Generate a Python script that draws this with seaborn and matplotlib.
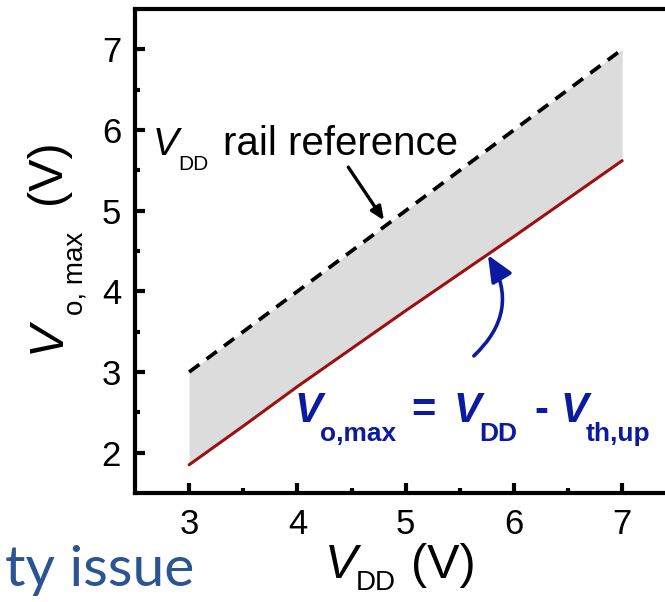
import matplotlib
matplotlib.use("Agg")
import matplotlib.pyplot as plt
from matplotlib.patches import FancyArrowPatch
from matplotlib.transforms import offset_copy
import seaborn as sns

# Supply voltage sweep and resulting levels (V)
vdd = [3.0, 3.5, 4.0, 4.5, 5.0, 5.5, 6.0, 6.5, 7.0]
rail_ref = [3.0, 3.5, 4.0, 4.5, 5.0, 5.5, 6.0, 6.5, 7.0]
vo_max = [1.85, 2.33, 2.82, 3.29, 3.76, 4.22, 4.68, 5.15, 5.62]

x_ticks = [3, 4, 5, 6, 7]
y_ticks = [2, 3, 4, 5, 6, 7]

sns.set_style("ticks")
plt.rcParams["font.family"] = ["Liberation Sans", "DejaVu Sans"]

fig = plt.figure(figsize=(6.65, 6.02), dpi=100)
ax = fig.add_axes([0.203, 0.181, 0.814, 0.804])
renderer = fig.canvas.get_renderer()


def rich_text(x, y, runs, transform, color="black", rotation=0):
    """Lay out (text, size, style, weight, drop_pt, kern_pt) runs along a baseline."""
    adv = 0.0
    for txt, size, style, weight, drop, kern in runs:
        adv += kern
        if rotation == 0:
            ox, oy = adv, -drop
        else:
            ox, oy = drop, adv
        tr = offset_copy(transform, fig=fig, x=ox, y=oy, units="points")
        t = fig.text(x, y, txt, transform=tr, fontsize=size, style=style,
                     weight=weight, color=color, rotation=rotation,
                     rotation_mode="anchor", ha="left", va="baseline",
                     zorder=6)
        bb = t.get_window_extent(renderer)
        adv += (bb.width if rotation == 0 else bb.height) * 72 / fig.dpi


ax.fill_between(vdd, vo_max, rail_ref, color="#dcdcdc", lw=0, zorder=1)
sns.lineplot(x=vdd, y=rail_ref, ax=ax, color="black", lw=2.7, zorder=3)
ax.lines[-1].set_dashes((3.4, 2.4))
sns.lineplot(x=vdd, y=vo_max, ax=ax, color="#9b1010", lw=2.2, zorder=3)

ax.set_xlim(2.5, 7.5)
ax.set_ylim(1.5, 7.5)
ax.set_xticks(x_ticks)
ax.set_yticks(y_ticks)
ax.set_xticks([3.5, 4.5, 5.5, 6.5], minor=True)
ax.set_yticks([2.5, 3.5, 4.5, 5.5, 6.5], minor=True)
ax.tick_params(which="both", direction="in", width=3, colors="black",
               labelsize=25)
ax.tick_params(which="major", length=7)
ax.tick_params(which="minor", length=3.5)
ax.tick_params(axis="x", pad=11)
ax.tick_params(axis="y", pad=10)
for s in ax.spines.values():
    s.set_linewidth(3)
    s.set_color("black")
ax.set_xlabel("")
ax.set_ylabel("")

# Axis titles with dropped subscripts
rich_text(325 / 665, 1 - 578 / 602,
          [("V", 35, "italic", "normal", 0, 0),
           ("DD", 20, "normal", "normal", 9, -1),
           ("(V)", 35, "normal", "normal", 0, 11)],
          fig.transFigure)
rich_text(60 / 665, 1 - 353 / 602,
          [("V", 35, "italic", "normal", 0, 0),
           ("o, max", 20, "normal", "normal", 16, 4),
           ("(V)", 35, "normal", "normal", 0, 20)],
          fig.transFigure, rotation=90)

# Rail reference label and pointer
rich_text(2.665, 5.69,
          [("V", 28, "italic", "normal", 0, 0),
           ("DD", 15, "normal", "normal", 11, 0),
           ("rail reference", 29, "normal", "normal", 0, 10)],
          ax.transData)
ax.annotate("", xy=(4.80, 4.88), xytext=(4.47, 5.54),
            arrowprops=dict(arrowstyle="-|>,head_length=0.8,head_width=0.35",
                            color="black", lw=2.4, shrinkA=0, shrinkB=0),
            zorder=5)

# Maximum output level relation
blue = "#0c1aa0"
rich_text(3.97, 2.385,
          [("V", 30, "italic", "bold", 0, 0),
           ("o,max", 19, "normal", "bold", 14, -1.5),
           ("=", 30, "normal", "bold", 0, 11),
           ("V", 30, "italic", "bold", 0, 13),
           ("DD", 19, "normal", "bold", 14, -1.5),
           ("-", 30, "normal", "bold", 0, 12),
           ("V", 30, "italic", "bold", 0, 9),
           ("th,up", 19, "normal", "bold", 14, -1.5)],
          ax.transData, color=blue)
arr = FancyArrowPatch((5.63, 3.20), (5.76, 4.45),
                      connectionstyle="arc3,rad=0.4",
                      arrowstyle="-|>,head_length=16,head_width=7",
                      color=blue, lw=2.6, shrinkA=0, shrinkB=0, zorder=5)
ax.add_patch(arr)

fig.text(194 / 665, 1 - 586 / 602, "ty issue", fontsize=41, color="#2b5592",
         family=["Lato", "DejaVu Sans"], ha="right", va="baseline")

fig.savefig("out.png", dpi=100)
